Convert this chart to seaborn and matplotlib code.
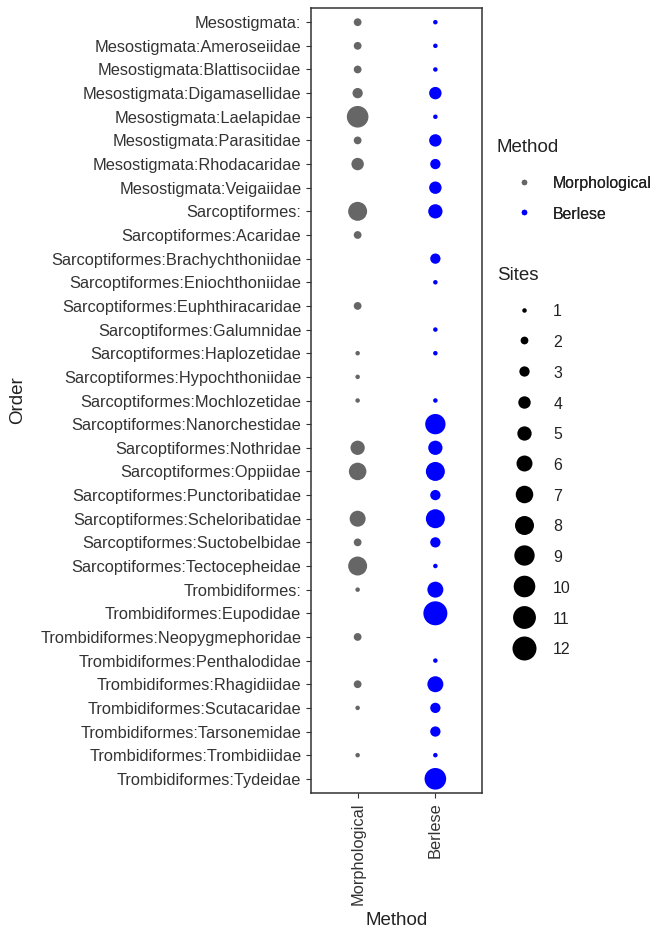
import numpy as np
import pandas as pd
import matplotlib
matplotlib.use("Agg")
import matplotlib.pyplot as plt
from matplotlib.lines import Line2D
import seaborn as sns

# Mite families (Order:Family) and number of sites where each was detected
orders = [
    "Mesostigmata:", "Mesostigmata:Ameroseiidae", "Mesostigmata:Blattisociidae",
    "Mesostigmata:Digamasellidae", "Mesostigmata:Laelapidae", "Mesostigmata:Parasitidae",
    "Mesostigmata:Rhodacaridae", "Mesostigmata:Veigaiidae", "Sarcoptiformes:",
    "Sarcoptiformes:Acaridae", "Sarcoptiformes:Brachychthoniidae", "Sarcoptiformes:Eniochthoniidae",
    "Sarcoptiformes:Euphthiracaridae", "Sarcoptiformes:Galumnidae", "Sarcoptiformes:Haplozetidae",
    "Sarcoptiformes:Hypochthoniidae", "Sarcoptiformes:Mochlozetidae", "Sarcoptiformes:Nanorchestidae",
    "Sarcoptiformes:Nothridae", "Sarcoptiformes:Oppiidae", "Sarcoptiformes:Punctoribatidae",
    "Sarcoptiformes:Scheloribatidae", "Sarcoptiformes:Suctobelbidae", "Sarcoptiformes:Tectocepheidae",
    "Trombidiformes:", "Trombidiformes:Eupodidae", "Trombidiformes:Neopygmephoridae",
    "Trombidiformes:Penthalodidae", "Trombidiformes:Rhagidiidae", "Trombidiformes:Scutacaridae",
    "Trombidiformes:Tarsonemidae", "Trombidiformes:Trombidiidae", "Trombidiformes:Tydeidae",
]
methods = ["Morphological", "Berlese"]
morphological_sites = [2, 2, 2, 3, 10, 2, 4, None, 8, 2, None, None, 2, None, 1, 1, 1,
                       None, 5, 7, None, 6, 2, 8, 1, None, 2, None, 2, 1, None, 1, None]
berlese_sites = [1, 1, 1, 4, 1, 4, 3, 4, 5, None, 3, 1, None, 1, 1, None, 1,
                 9, 5, 8, 3, 8, 3, 1, 6, 12, None, 1, 6, 3, 3, 1, 10]
site_levels = list(range(1, 13))
method_colors = {"Morphological": "#666666", "Berlese": "#0000FF"}

rows = []
for i, order in enumerate(orders):
    for method, values in zip(methods, [morphological_sites, berlese_sites]):
        if values[i] is not None:
            rows.append({"Order": order, "Method": method, "Sites": values[i]})
df = pd.DataFrame(rows)
df["Order"] = pd.Categorical(df["Order"], categories=orders, ordered=True)
df["Method"] = pd.Categorical(df["Method"], categories=methods, ordered=True)

D_MIN, D_MAX = 4.5, 24.0  # marker diameters in pixels for 1 and 12 sites


def diameter_pt(v):
    # area-style scale: diameter grows with the square root of the value
    px = D_MIN + (D_MAX - D_MIN) * (np.sqrt(v) - 1) / (np.sqrt(12) - 1)
    return px * 0.72


size_map = {v: diameter_pt(v) ** 2 for v in site_levels}

sns.set_style("white")
plt.rcParams["font.family"] = ["Liberation Sans", "DejaVu Sans"]

W, H = 655, 932
fig = plt.figure(figsize=(W / 100, H / 100), dpi=100)
ax = fig.add_axes([311 / W, 1 - 793 / H, 171 / W, 785 / H])

sns.scatterplot(
    data=df, x="Method", y="Order", hue="Method", palette=method_colors,
    size="Sites", sizes=size_map, linewidth=0, legend=False, ax=ax,
)

ax.set_xlim(-0.6, 1.6)
ax.set_ylim(len(orders) - 1 + 0.6, -0.6)
ax.set_xticks(range(len(methods)))
ax.set_xticklabels(methods, rotation=90, va="top", ha="center")
ax.set_yticks(range(len(orders)))
ax.set_yticklabels(orders)

label_color = "#333333"
ax.tick_params(axis="both", which="both", length=3.6, width=0.8, color=label_color,
               labelsize=11.8, labelcolor=label_color, pad=3.4,
               left=True, bottom=True)
for spine in ax.spines.values():
    spine.set_visible(True)
    spine.set_color(label_color)
    spine.set_linewidth(1.1)

ax.set_xlabel("Method", fontsize=13.5, color="#222222")
ax.set_ylabel("Order", fontsize=13.5, color="#222222")
ax.xaxis.set_label_coords(0.5, (793 - 912) / 785)
ax.yaxis.set_label_coords((26 - 311) / 171, 0.5)

legend_kw = dict(loc="upper left", frameon=False, fontsize=11.4,
                 labelspacing=0.9, handlelength=3.45,
                 handleheight=1.2, handletextpad=0.1, borderpad=0,
                 borderaxespad=0, labelcolor="#222222")
title_kw = dict(fontsize=13.5, color="#222222", ha="left", va="center")

# Method legend
fig.text(497 / W, 1 - 148 / H, "Method", **title_kw)
method_handles = [
    Line2D([], [], marker="o", linestyle="", markersize=5.5 * 0.72,
           markerfacecolor=method_colors[m], markeredgewidth=0)
    for m in methods
]
leg1 = fig.legend(method_handles, methods,
                  bbox_to_anchor=(497 / W, 1 - 175 / H), **legend_kw)

# Sites legend
fig.text(497 / W, 1 - 275 / H, "Sites", **title_kw)
site_handles = [
    Line2D([], [], marker="o", linestyle="", markersize=diameter_pt(v),
           markerfacecolor="black", markeredgewidth=0)
    for v in site_levels
]
leg2 = fig.legend(site_handles, [str(v) for v in site_levels],
                  bbox_to_anchor=(497 / W, 1 - 303 / H), **legend_kw)
fig.add_artist(leg1)

fig.savefig("out.png", dpi=100, facecolor="white")
